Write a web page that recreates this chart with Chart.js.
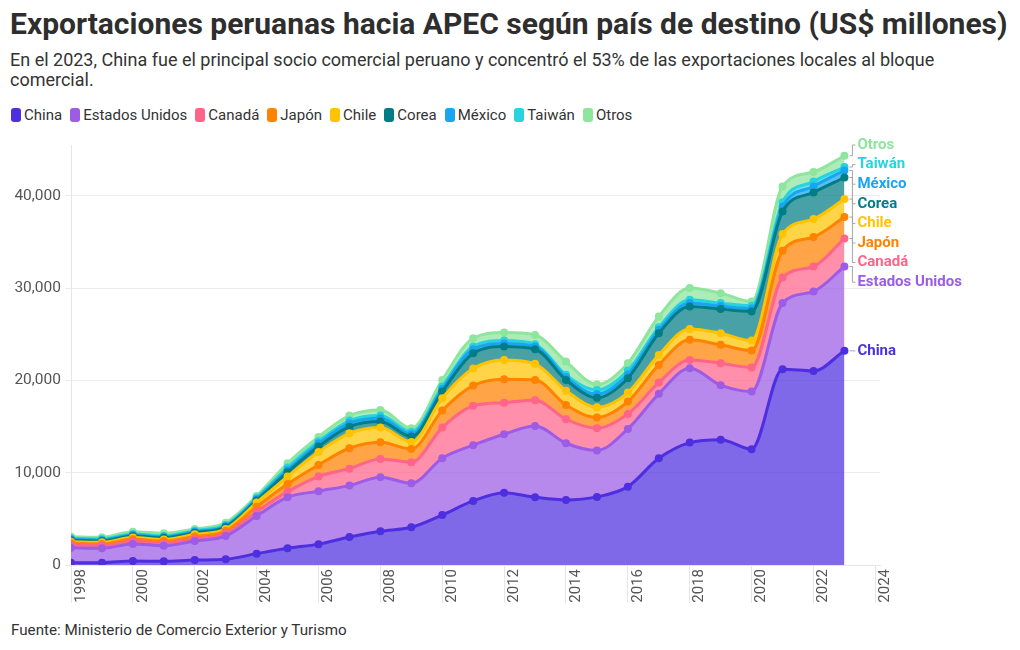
<!DOCTYPE html>
<html lang="es">
<head>
<meta charset="utf-8">
<title>Exportaciones peruanas hacia APEC</title>
<script src="https://cdn.jsdelivr.net/npm/chart.js@4.4.1/dist/chart.umd.min.js"></script>
<style>
  body { margin: 0; width: 1020px; height: 650px; background: #fff; font-family: Roboto, 'Noto Sans', sans-serif; color: #333; position: relative; overflow: hidden }
  h1 { position: absolute; left: 10px; top: 6px; margin: 0; font-size: 30px; font-weight: 700; color: #2e2e2e; white-space: nowrap }
  .sub { position: absolute; left: 10px; top: 50px; width: 960px; font-size: 18px; line-height: 20px; color: #333 }
  #legend { position: absolute; left: 11px; top: 106px; display: flex; font-size: 15px; color: #333 }
  .item { display: flex; align-items: center; margin-right: 8px }
  .sw { width: 10px; height: 14px; border-radius: 3px; margin-right: 3px }
  #wrap { position: absolute; left: 0; top: 130px }
  .src { position: absolute; left: 11px; top: 621px; font-size: 15.2px; color: #333 }
</style>
</head>
<body>
<h1>Exportaciones peruanas hacia APEC según país de destino (US$ millones)</h1>
<div class="sub">En el 2023, China fue el principal socio comercial peruano y concentró el 53% de las exportaciones locales al bloque comercial.</div>
<div id="legend"></div>
<div id="wrap"><canvas id="chart" width="1020" height="480"></canvas></div>
<div class="src">Fuente: Ministerio de Comercio Exterior y Turismo</div>
<script>
// años 1998-2023, US$ millones
const years = [1998, 1999, 2000, 2001, 2002, 2003, 2004, 2005, 2006, 2007, 2008, 2009, 2010,
  2011, 2012, 2013, 2014, 2015, 2016, 2017, 2018, 2019, 2020, 2021, 2022, 2023]

const china  = [250, 250, 430, 400, 540, 620, 1230, 1810, 2260, 3035, 3650, 4085, 5420, 6940, 7840, 7340, 7045, 7380, 8490, 11560, 13260, 13580, 12540, 21210, 21030, 23200]
const eeuu   = [1630, 1560, 1850, 1690, 2060, 2520, 4080, 5530, 5740, 5565, 5860, 4775, 6150, 6040, 6330, 7730, 6145, 5030, 6250, 6980, 8060, 5900, 6250, 7160, 8600, 9140]
const canada = [290, 290, 290, 290, 250, 290, 470, 610, 1580, 1840, 1980, 2270, 3320, 4260, 3420, 2780, 2600, 2410, 1630, 1220, 900, 2380, 2600, 2780, 2710, 3030]
const japon  = [180, 180, 220, 210, 250, 250, 540, 830, 1260, 2210, 1810, 1440, 1840, 2200, 2540, 2200, 1550, 1170, 1330, 1920, 2170, 1990, 1840, 2890, 3180, 2320]
const chile  = [180, 180, 190, 180, 220, 220, 440, 800, 1400, 1620, 1590, 760, 1340, 1840, 2090, 1740, 1550, 1100, 980, 1080, 1190, 1260, 1080, 1810, 1950, 1950]
const corea  = [150, 140, 170, 170, 180, 220, 220, 470, 590, 720, 650, 580, 720, 1670, 1440, 1590, 1160, 1030, 1560, 2350, 2420, 2610, 3150, 2450, 2890, 2340]
const mexico = [110, 110, 110, 110, 110, 110, 150, 250, 320, 370, 360, 290, 290, 430, 340, 300, 300, 380, 410, 340, 370, 330, 340, 500, 650, 760]
const taiwan = [100, 100, 100, 100, 110, 110, 150, 250, 250, 290, 300, 240, 250, 300, 310, 240, 250, 470, 410, 310, 360, 320, 280, 500, 540, 370]
const otros  = [180, 190, 250, 280, 180, 250, 200, 470, 470, 540, 600, 380, 720, 890, 870, 1010, 1440, 590, 800, 1160, 1270, 1080, 460, 1710, 1020, 1230]

const names  = ['China', 'Estados Unidos', 'Canadá', 'Japón', 'Chile', 'Corea', 'México', 'Taiwán', 'Otros']
const values = [china, eeuu, canada, japon, chile, corea, mexico, taiwan, otros]
const colors = ['#4d2fe0', '#9d5ce6', '#ff6489', '#ff8200', '#ffc300', '#007d85', '#1aa5f0', '#27d3de', '#8ee59d']

const yTicks = [0, 10000, 20000, 30000, 40000]
const xTicks = [1998, 2000, 2002, 2004, 2006, 2008, 2010, 2012, 2014, 2016, 2018, 2020, 2022, 2024]

function rgba(hex, a) {
  const n = parseInt(hex.slice(1), 16)
  return `rgba(${n >> 16},${(n >> 8) & 255},${n & 255},${a})`
}

// leyenda
const leg = document.getElementById('legend')
names.forEach((n, i) => {
  const el = document.createElement('div')
  el.className = 'item'
  el.innerHTML = `<span class="sw" style="background:${colors[i]}"></span>${n}`
  leg.appendChild(el)
})

// etiquetas al final de cada serie, separadas para que no se pisen
const endLabels = {
  id: 'endLabels',
  afterDatasetsDraw(chart) {
    const { ctx, chartArea } = chart
    const gap = 19.6
    const items = chart.data.datasets.map((ds, i) => {
      const meta = chart.getDatasetMeta(i)
      const pt = meta.data[meta.data.length - 1]
      return { text: ds.label, color: ds.borderColor, px: pt.x, py: pt.y }
    }).sort((a, b) => a.py - b.py)

    let groups = items.map(it => ({ members: [it], c: it.py }))
    let merged = true
    while (merged) {
      merged = false
      for (let k = 1; k < groups.length; k++) {
        const a = groups[k - 1], b = groups[k]
        const aBottom = a.c + (a.members.length - 1) / 2 * gap
        const bTop = b.c - (b.members.length - 1) / 2 * gap
        if (bTop - aBottom < gap) {
          const m = a.members.concat(b.members)
          const c = m.reduce((s, it) => s + it.py, 0) / m.length
          groups.splice(k - 1, 2, { members: m, c })
          merged = true
          break
        }
      }
    }
    groups.forEach(g => g.members.forEach((it, j) => { it.y = g.c + (j - (g.members.length - 1) / 2) * gap }))
    let prev = chartArea.top - gap
    items.forEach(it => { it.y = Math.max(it.y, prev + gap); prev = it.y })

    ctx.save()
    ctx.font = 'bold 15px Roboto, sans-serif'
    ctx.textBaseline = 'middle'
    items.forEach(it => {
      const x0 = it.px + 5, x1 = it.px + 8, x2 = it.px + 11
      ctx.strokeStyle = '#a6a6a6'
      ctx.lineWidth = 1
      ctx.beginPath()
      ctx.moveTo(x0, it.py)
      ctx.lineTo(x1, it.py)
      ctx.lineTo(x1, it.y)
      ctx.lineTo(x2, it.y)
      ctx.stroke()
      ctx.fillStyle = it.color
      ctx.fillText(it.text, it.px + 13, it.y)
    })
    ctx.restore()
  }
}

Chart.defaults.font.family = 'Roboto, sans-serif'

new Chart(document.getElementById('chart'), {
  type: 'line',
  data: {
    datasets: values.map((arr, i) => ({
      label: names[i],
      data: years.map((yr, k) => ({ x: yr, y: arr[k] })),
      borderColor: colors[i],
      backgroundColor: rgba(colors[i], 0.72),
      pointBackgroundColor: colors[i],
      pointBorderWidth: 0,
      pointRadius: 4,
      borderWidth: 3,
      cubicInterpolationMode: 'monotone',
      fill: i === 0 ? 'origin' : '-1'
    }))
  },
  options: {
    responsive: false,
    animation: false,
    layout: { padding: { top: 15, right: 140, left: 0, bottom: 0 } },
    plugins: { legend: { display: false }, tooltip: { enabled: false } },
    scales: {
      x: {
        type: 'linear',
        min: 1998,
        max: 2024.15,
        afterBuildTicks: s => { s.ticks = xTicks.map(v => ({ value: v })) },
        afterFit: s => { s.height = 45 },
        grid: { drawOnChartArea: false, tickLength: 38, color: '#e6e6e6' },
        border: { color: '#e6e6e6' },
        ticks: {
          autoSkip: false, minRotation: 90, maxRotation: 90, labelOffset: 10, padding: -34,
          color: '#555', font: { size: 15 },
          callback: v => String(v)
        }
      },
      y: {
        stacked: true,
        min: 0,
        max: 45500,
        afterBuildTicks: s => { s.ticks = yTicks.map(v => ({ value: v })) },
        afterFit: s => { s.width = 71 },
        grid: { color: '#ebebeb', tickLength: 6 },
        border: { color: '#e6e6e6' },
        ticks: { color: '#555', font: { size: 15.5 }, padding: 4, callback: v => v.toLocaleString('en-US') }
      }
    }
  },
  plugins: [endLabels]
})
</script>
</body>
</html>
